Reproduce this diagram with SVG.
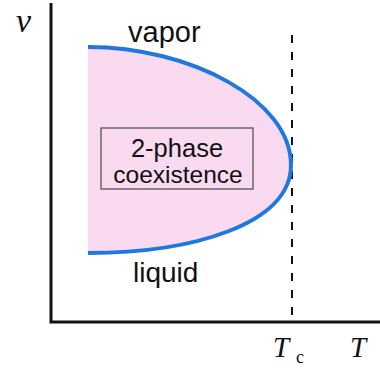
<svg xmlns="http://www.w3.org/2000/svg" width="380" height="368" viewBox="0 0 380 368">
  <style>
    .lbl { font-family: "Liberation Sans", Arial, sans-serif; fill: #111; }
    .math { font-family: "Liberation Serif", "Times New Roman", serif; font-style: italic; fill: #111; }
    .axis { stroke: #111; stroke-width: 3; fill: none; }
  </style>
  <rect width="380" height="368" fill="#ffffff"/>
  <g id="region">
    <path d="M88,47 C190,47 291,100 291,165 C291,225 190,253 88,253 Z" fill="#fadaf1" stroke="none"/>
  </g>
  <g id="connectors">
    <path class="axis" d="M51,3 L51,322 L380,322"/>
    <line x1="292" y1="35" x2="292" y2="321" stroke="#111" stroke-width="2" stroke-dasharray="8 9"/>
    <path d="M88,47 C190,47 291,100 291,165 C291,225 190,253 88,253" fill="none" stroke="#1f78e0" stroke-width="4"/>
  </g>
  <g id="box">
    <rect x="101" y="128" width="152" height="61" fill="#fadaf1" stroke="#555" stroke-width="1.3"/>
    <text class="lbl" x="177" y="157" font-size="25.5" text-anchor="middle">2-phase</text>
    <text class="lbl" x="178" y="183" font-size="24.5" text-anchor="middle">coexistence</text>
  </g>
  <g id="vapor">
    <text class="lbl" x="128" y="42" font-size="29">vapor</text>
  </g>
  <g id="liquid">
    <text class="lbl" x="133" y="282" font-size="28">liquid</text>
  </g>
  <g id="axis-labels">
    <text class="math" x="16" y="32" font-size="34">v</text>
    <text class="math" x="273" y="357" font-size="29">T</text>
    <text x="296" y="363" font-size="18" font-family="Liberation Serif, serif" fill="#111">c</text>
    <text class="math" x="350" y="357" font-size="29">T</text>
  </g>
</svg>
